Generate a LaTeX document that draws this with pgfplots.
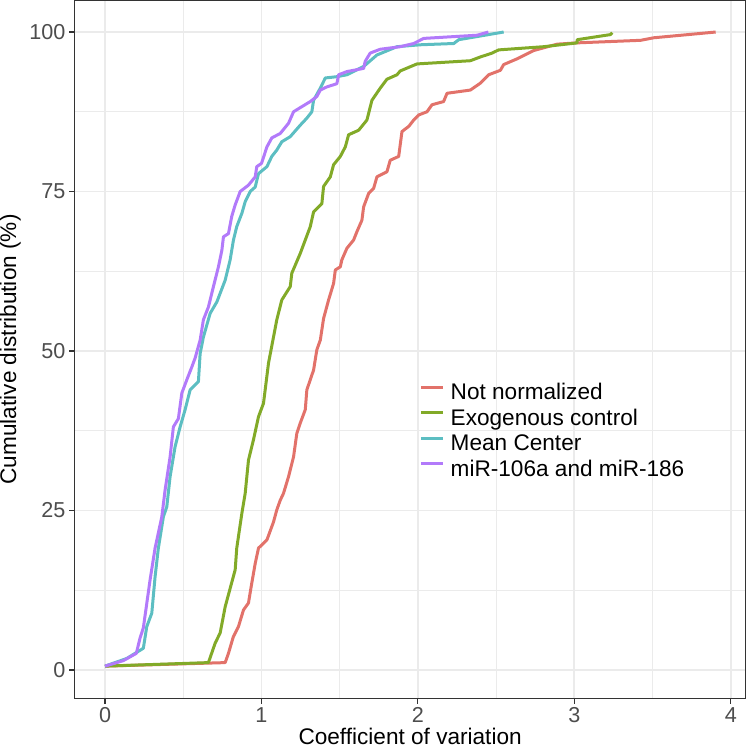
\documentclass[border=0pt]{standalone}
\usepackage{pgfplots}
\pgfplotsset{compat=1.18}
\usepackage{fontspec}
\setmainfont{Liberation Sans}

\definecolor{cNot}{RGB}{226,114,106}
\definecolor{cExo}{RGB}{130,170,40}
\definecolor{cMean}{RGB}{92,190,194}
\definecolor{cMir}{RGB}{178,122,250}
\definecolor{gridc}{RGB}{235,235,235}
\definecolor{axc}{RGB}{51,51,51}
\definecolor{tickc}{RGB}{77,77,77}

\begin{document}
\begin{tikzpicture}
\path[use as bounding box] (-37.25pt,-24.5pt) rectangle (336.75pt,349.25pt);
\begin{axis}[
  width=335.6pt, height=349.1pt, scale only axis,
  xmin=-0.195, xmax=4.095, ymin=-4.475, ymax=104.975,
  xtick={0,1,2,3,4}, ytick={0,25,50,75,100},
  minor xtick={0.5,1.5,2.5,3.5}, minor ytick={12.5,37.5,62.5,87.5},
  grid=both,
  major grid style={gridc, line width=0.9pt},
  minor grid style={gridc, line width=0.45pt},
  axis line style={axc, line width=0.55pt},
  tick style={axc, line width=0.55pt},
  major tick length=2.7pt, minor tick length=0pt,
  tick align=outside, tick pos=left,
  /pgf/number format/assume math mode=true,
  tick label style={font=\fontsize{10.8}{12}\selectfont, text=tickc},
  yticklabel style={anchor=east, inner sep=0pt, xshift=-1.6pt},
  xticklabel style={anchor=base, inner sep=0pt, yshift=-9.1pt},
  xlabel={Coefficient of variation},
  ylabel={Cumulative distribution (\%)},
  label style={font=\fontsize{11.3}{13}\selectfont},
  xlabel style={at={(axis description cs:0.5,0)}, anchor=base, inner sep=0pt, yshift=-22.9pt},
  ylabel style={at={(axis description cs:-0.0955,0.5)}, anchor=center, inner sep=0pt},
  legend cell align=left,
  legend image code/.code={\draw[#1, line width=1.5pt] (0pt,3.4pt) -- (10.8pt,3.4pt);},
  legend style={at={(axis description cs:0.5139,0.3814)}, anchor=west, draw=none, fill=none,
    inner sep=0pt, outer sep=0pt, row sep=2.1pt, column sep=3.35pt,
    font=\fontsize{11.3}{13}\selectfont,
    nodes={inner sep=0pt, text height=8.2pt, text depth=2.5pt}},
  every axis plot/.append style={line width=1.5pt, line join=round},
]
\addplot[cNot] coordinates {(0,0.6) (0.768,1.15) (0.789,2.6) (0.82,5.2) (0.853,6.8) (0.885,9.4) (0.917,10.5) (0.938,13.6) (0.96,16.7) (0.981,19.1) (1.035,20.4) (1.077,23.2) (1.098,25.1) (1.12,26.6) (1.141,27.7) (1.173,30.3) (1.205,33.4) (1.226,37.1) (1.248,38.7) (1.28,40.8) (1.29,43.9) (1.312,45.5) (1.333,47.0) (1.354,50.2) (1.376,51.7) (1.397,55.1) (1.429,58.0) (1.461,60.6) (1.472,62.7) (1.504,63.2) (1.514,64.3) (1.546,66.1) (1.589,67.4) (1.61,68.7) (1.642,70.5) (1.653,72.6) (1.685,74.7) (1.717,75.5) (1.738,77.3) (1.802,78.1) (1.823,79.9) (1.877,80.5) (1.898,84.4) (1.941,85.2) (1.973,86.2) (2.005,87.0) (2.058,87.5) (2.09,88.6) (2.164,89.1) (2.186,90.4) (2.335,90.9) (2.4,92.0) (2.452,93.3) (2.527,94.0) (2.548,94.9) (2.634,95.8) (2.74,97.1) (2.89,98.1) (3.018,98.3) (3.423,98.7) (3.508,99.1) (3.903,100)};
\addlegendentry{Not normalized}
\addplot[cExo] coordinates {(0,0.6) (0.661,1.15) (0.704,4.2) (0.736,5.8) (0.768,9.9) (0.8,12.8) (0.832,15.7) (0.842,19.1) (0.875,24.6) (0.896,27.7) (0.917,32.9) (0.949,36.1) (0.981,39.7) (1.013,41.8) (1.045,48.1) (1.077,52.2) (1.098,54.9) (1.13,58.0) (1.184,60.1) (1.194,62.2) (1.248,65.3) (1.28,67.4) (1.312,69.5) (1.333,71.8) (1.386,73.1) (1.397,75.8) (1.44,77.3) (1.461,79.2) (1.504,80.5) (1.536,82.0) (1.557,83.9) (1.621,84.6) (1.674,86.2) (1.706,89.3) (1.759,91.2) (1.802,92.6) (1.866,93.3) (1.887,93.9) (1.994,95.0) (2.335,95.5) (2.4,96.1) (2.474,96.7) (2.516,97.2) (2.804,97.7) (3.018,98.3) (3.018,98.8) (3.231,99.6) (3.242,99.9)};
\addlegendentry{Exogenous control}
\addplot[cMean] coordinates {(0,0.6) (0.139,1.8) (0.245,3.4) (0.267,6.8) (0.299,8.9) (0.32,14.6) (0.341,19.1) (0.373,24.0) (0.395,25.6) (0.416,30.3) (0.448,35.0) (0.48,38.1) (0.512,40.8) (0.544,43.9) (0.597,45.2) (0.608,49.6) (0.629,52.2) (0.672,55.9) (0.715,57.7) (0.768,61.1) (0.8,64.3) (0.821,67.4) (0.842,69.5) (0.875,71.6) (0.896,73.4) (0.928,75.0) (0.96,75.7) (0.981,77.8) (1.035,78.9) (1.066,80.5) (1.098,81.5) (1.13,82.8) (1.184,83.6) (1.248,85.4) (1.29,86.5) (1.322,87.5) (1.333,89.3) (1.376,91.2) (1.408,92.8) (1.482,93.0) (1.546,93.3) (1.653,94.6) (1.738,96.4) (1.866,97.7) (2.015,98.0) (2.229,98.2) (2.261,98.8) (2.548,100)};
\addlegendentry{Mean Center}
\addplot[cMir] coordinates {(0,0.6) (0.117,1.46) (0.2,2.6) (0.224,5.0) (0.245,6.6) (0.288,14.1) (0.32,19.1) (0.363,24.0) (0.384,28.2) (0.416,33.4) (0.437,38.1) (0.469,39.4) (0.491,43.4) (0.523,45.5) (0.555,47.5) (0.576,48.9) (0.608,51.7) (0.629,54.9) (0.661,56.9) (0.693,60.1) (0.725,63.2) (0.747,65.8) (0.757,67.9) (0.789,68.4) (0.81,71.1) (0.832,72.9) (0.864,75.0) (0.917,76.0) (0.96,77.3) (0.97,78.9) (1.0,79.4) (1.035,82.0) (1.066,83.4) (1.12,84.1) (1.173,85.7) (1.205,87.5) (1.258,88.3) (1.312,89.1) (1.354,89.9) (1.376,90.9) (1.418,91.4) (1.482,91.9) (1.493,93.3) (1.546,93.8) (1.653,94.3) (1.663,95.4) (1.695,96.7) (1.759,97.3) (1.887,97.7) (1.973,98.2) (2.037,99.0) (2.378,99.5) (2.45,100)};
\addlegendentry{miR-106a and miR-186}
\end{axis}
\end{tikzpicture}
\end{document}
